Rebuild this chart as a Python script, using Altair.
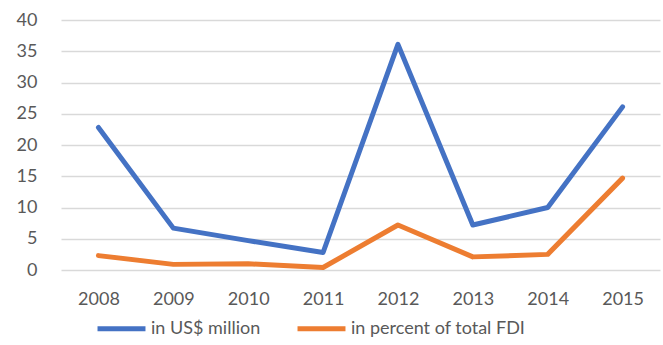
import altair as alt
import pandas as pd

years = ["2008", "2009", "2010", "2011", "2012", "2013", "2014", "2015"]
usd_million = [22.8, 6.7, 4.7, 2.8, 36.1, 7.2, 10.0, 26.1]
pct_total_fdi = [2.3, 0.9, 1.0, 0.4, 7.2, 2.1, 2.5, 14.7]
series_names = ["in US$ million", "in percent of total FDI"]
colors = ["#4472C4", "#ED7D31"]

rows = []
for y, v in zip(years, usd_million):
    rows.append({"year": y, "value": v, "series": series_names[0]})
for y, v in zip(years, pct_total_fdi):
    rows.append({"year": y, "value": v, "series": series_names[1]})
df = pd.DataFrame(rows)

FONT = "Lato"
LABEL_COLOR = "#595959"

chart = alt.Chart(df).mark_line(strokeWidth=5, strokeCap="round", strokeJoin="round").encode(
    x=alt.X("year:N", sort=years, title=None,
            scale=alt.Scale(type="point", padding=0.5),
            axis=alt.Axis(labelAngle=0, domain=False, ticks=False, grid=False,
                          labelFontSize=18, labelColor=LABEL_COLOR, labelFont=FONT,
                          labelPadding=20)),
    y=alt.Y("value:Q", title=None,
            scale=alt.Scale(domain=[0, 40], nice=False),
            axis=alt.Axis(values=[0, 5, 10, 15, 20, 25, 30, 35, 40], domain=False, ticks=False,
                          gridColor="#D9D9D9", gridWidth=1.5,
                          labelFontSize=18, labelColor=LABEL_COLOR, labelFont=FONT,
                          labelPadding=24)),
    color=alt.Color("series:N", title=None,
                    scale=alt.Scale(domain=series_names, range=colors),
                    legend=alt.Legend(orient="none", legendX=34, legendY=282,
                                      direction="horizontal", symbolType="stroke",
                                      symbolSize=2300, symbolStrokeWidth=5,
                                      labelFontSize=18, labelColor=LABEL_COLOR, labelFont=FONT,
                                      labelOffset=3, columnPadding=26, labelLimit=400)),
).properties(
    width=599, height=250,
    padding={"left": 61, "top": 20, "right": 3, "bottom": 75},
    autosize=alt.AutoSizeParams(type="none"),
).configure_view(stroke=None)

chart.save("out.html", embed_options={"renderer": "svg", "actions": False})
